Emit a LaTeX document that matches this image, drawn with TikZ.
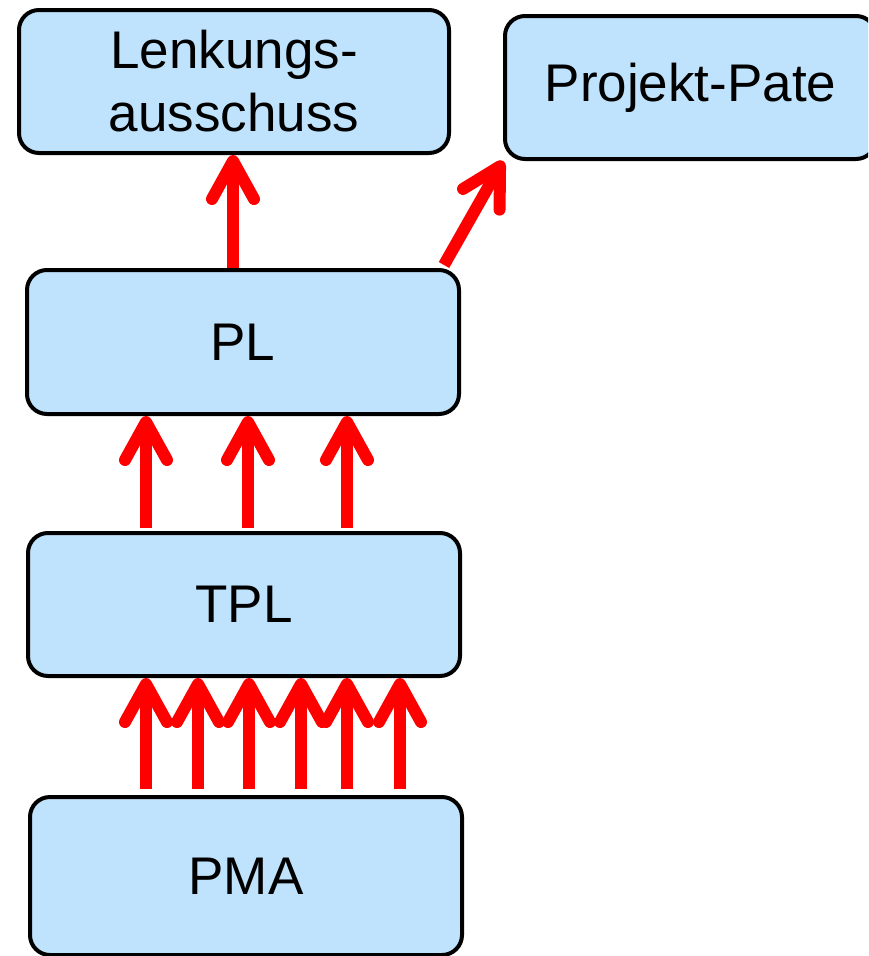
\documentclass[tikz,border=0pt]{standalone}
\usepackage{fontspec}
\setmainfont{Liberation Sans}
\usetikzlibrary{arrows.meta}
\definecolor{boxfill}{RGB}{191,227,252}
\definecolor{linkred}{RGB}{255,0,0}
\tikzset{
  rolebox/.style={draw=black, line width=4pt, fill=boxfill, rounded corners=20pt,
    inner sep=0pt, align=center, font=\fontsize{53}{63}\selectfont},
  report/.style={draw=linkred, line width=12pt,
    -{Straight Barb[round, length=38pt, width=42pt]}}
}
\begin{document}
\begin{tikzpicture}[x=1pt, y=1pt]
  \clip (0,0) rectangle (868,-956);
  % boxes of the reporting chain
  \node[rolebox, minimum width=430pt, minimum height=143pt] (lenk) at (234,-81.5) {Lenkungs-\\ausschuss};
  \node[rolebox, minimum width=371pt, minimum height=143pt] (pate) at (690.5,-87.5) {Projekt-Pate};
  \node[rolebox, minimum width=432pt, minimum height=144pt] (pl) at (243,-342) {PL};
  \node[rolebox, minimum width=432pt, minimum height=143pt] (tpl) at (244,-604.5) {TPL};
  \node[rolebox, minimum width=432pt, minimum height=158pt] (pma) at (246,-876) {PMA};

  % PL reports upwards
  \draw[report] (pl.north -| 233,0) -- (lenk.south -| 233,0);
  \coordinate (plout) at (444,-265);
  \draw[report] (plout) -- (pate.south west);

  % TPL reports to PL
  \foreach \x in {146,248,347}
    \draw[report] ([yshift=3pt]tpl.north -| \x,0) -- (pl.south -| \x,0);

  % PMA reports to TPL
  \foreach \x in {146,198,249,301,347,400}
    \draw[report] ([yshift=6pt]pma.north -| \x,0) -- (tpl.south -| \x,0);
\end{tikzpicture}
\end{document}
